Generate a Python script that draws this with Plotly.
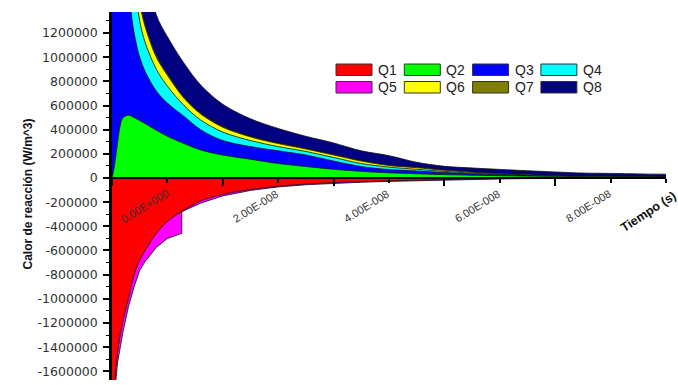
import plotly.graph_objects as go

# ---------------- data ----------------
# time in units of 1e-8 s
time_u = [0.0, 0.02, 0.05, 0.1, 0.15, 0.2, 0.3, 0.4, 0.5, 0.6, 0.8, 1.0, 1.3, 1.6, 2.0, 2.5,
          3.0, 3.5, 4.0, 4.5, 5.0, 5.5, 6.0, 6.5, 7.0, 7.5, 8.0, 8.5, 9.0, 9.5, 10.0]
time_u_q5 = [0.0, 0.02, 0.05, 0.1, 0.15, 0.2, 0.3, 0.4, 0.5, 0.6, 0.8, 1.0, 1.26, 1.26, 1.6, 2.0,
             2.5, 3.0, 3.5, 4.0, 4.5, 5.0, 5.5, 6.0, 6.5, 7.0, 7.5, 8.0, 8.5, 9.0, 9.5, 10.0]
T_UNIT = 1e-8      # s
V_UNIT = 1e6       # W/m^3

q1 = [-2.4, -2.0, -1.7, -1.45, -1.29, -1.18, -0.99, -0.80, -0.68, -0.6, -0.46, -0.36, -0.265, -0.19,
      -0.135, -0.095, -0.068, -0.05, -0.038, -0.03, -0.024, -0.018, -0.013, -0.008, -0.005, -0.003,
      -0.002, -0.0015, -0.001, -0.001, -0.001]
q2 = [0.0, 0.04, 0.12, 0.29, 0.44, 0.50, 0.52, 0.50, 0.475, 0.45, 0.395, 0.345, 0.285, 0.232, 0.19,
      0.155, 0.12, 0.095, 0.072, 0.055, 0.043, 0.035, 0.028, 0.023, 0.019, 0.016, 0.014, 0.012, 0.011,
      0.010, 0.009]
q3 = [6.0, 5.0, 4.5, 3.5, 2.8, 2.2, 1.55, 1.2, 1.0, 0.88, 0.72, 0.62, 0.51, 0.40, 0.31, 0.26, 0.225,
      0.19, 0.14, 0.095, 0.07, 0.058, 0.045, 0.034, 0.026, 0.019, 0.013, 0.009, 0.007, 0.005, 0.004]
q4 = [8.0, 7.0, 6.5, 5.0, 4.2, 3.6, 2.4, 1.7, 1.3, 1.12, 0.9, 0.76, 0.6, 0.48, 0.38, 0.31, 0.26,
      0.22, 0.17, 0.12, 0.09, 0.072, 0.055, 0.04, 0.03, 0.022, 0.015, 0.010, 0.008, 0.006, 0.005]
q5 = [-2.6, -2.1, -1.78, -1.53, -1.38, -1.27, -1.06, -0.9, -0.765, -0.69, -0.575, -0.5, -0.458,
      -0.279, -0.208, -0.148, -0.103, -0.074, -0.056, -0.044, -0.035, -0.028, -0.022, -0.016,
      -0.011, -0.008, -0.005, -0.003, -0.002, -0.001, -0.001, -0.001]
q6 = [8.0, 7.5, 7.0, 6.0, 5.0, 4.0, 2.6, 1.9, 1.45, 1.25, 1.0, 0.85, 0.66, 0.53, 0.42, 0.34, 0.285,
      0.24, 0.19, 0.14, 0.103, 0.085, 0.064, 0.047, 0.035, 0.026, 0.018, 0.012, 0.009, 0.007, 0.006]
q7 = [8.0, 7.5, 7.0, 6.0, 5.0, 4.1, 2.65, 1.93, 1.47, 1.27, 1.015, 0.862, 0.67, 0.538, 0.427, 0.346,
      0.29, 0.245, 0.195, 0.145, 0.107, 0.09, 0.068, 0.05, 0.037, 0.028, 0.02, 0.013, 0.01, 0.008,
      0.007]
q8 = [8.0, 8.0, 7.5, 6.5, 5.8, 5.0, 3.7, 2.8, 2.2, 1.8, 1.35, 1.17, 0.95, 0.77, 0.61, 0.49, 0.41,
      0.345, 0.29, 0.225, 0.185, 0.13, 0.097, 0.083, 0.071, 0.060, 0.050, 0.041, 0.038, 0.034, 0.031]

series_names = ["Q1", "Q2", "Q3", "Q4", "Q5", "Q6", "Q7", "Q8"]
series_colors = ["#FF0000", "#00FF00", "#0000FF", "#00FFFF", "#FF00FF", "#FFFF00", "#808000", "#000080"]
series_values = {"Q1": q1, "Q2": q2, "Q3": q3, "Q4": q4, "Q5": q5, "Q6": q6, "Q7": q7, "Q8": q8}
series_times = {n: (time_u_q5 if n == "Q5" else time_u) for n in series_names}
draw_order = ["Q8", "Q7", "Q6", "Q4", "Q3", "Q2", "Q5", "Q1"]

x_tick_vals = [0.0, 2e-8, 4e-8, 6e-8, 8e-8]
x_tick_text = ["0.00E+000", "2.00E-008", "4.00E-008", "6.00E-008", "8.00E-008"]
y_tick_vals = [-1600000, -1400000, -1200000, -1000000, -800000, -600000, -400000, -200000, 0,
               200000, 400000, 600000, 800000, 1000000, 1200000]
y_tick_text = [str(v) for v in y_tick_vals]

X_RANGE = [0.0, 1e-7]
Y_RANGE = [-1672000, 1374000]

# ---------------- layout geometry (px) ----------------
W, H = 678, 385
ML, MR, MT, MB = 112, 12, 12, 5
PW, PH = W - ML - MR, H - MT - MB


def px_to_paper(px, py):
    return (px - ML) / PW, (H - MB - py) / PH


# ---------------- figure ----------------
fig = go.Figure()
for name in draw_order:
    i = series_names.index(name)
    fig.add_trace(go.Scatter(
        x=[u * T_UNIT for u in series_times[name]],
        y=[v * V_UNIT for v in series_values[name]],
        mode="lines", fill="tozeroy", fillcolor=series_colors[i],
        line=dict(color="#111111", width=0.8,
                  shape="linear" if name == "Q5" else "spline", smoothing=0.9),
        name=name, showlegend=False, hoverinfo="skip",
    ))

zero_pos = (0 - Y_RANGE[0]) / (Y_RANGE[1] - Y_RANGE[0])

fig.update_layout(
    width=W, height=H,
    margin=dict(l=ML, r=MR, t=MT, b=MB, autoexpand=False),
    paper_bgcolor="white", plot_bgcolor="white",
    font=dict(family="Liberation Sans, Arial, sans-serif", color="#222222"),
    showlegend=False,
    xaxis=dict(
        range=X_RANGE, anchor="free", position=zero_pos, automargin=False,
        showline=True, linecolor="black", linewidth=2,
        ticks="outside", ticklen=7, tickwidth=1.8, tickcolor="black",
        tickvals=x_tick_vals, showticklabels=False, showgrid=False, zeroline=False,
        minor=dict(ticks="outside", ticklen=4, tickwidth=1.5, tickcolor="black", dtick=1e-8),
    ),
    yaxis=dict(
        range=Y_RANGE, automargin=False, showline=True, linecolor="black", linewidth=2.5,
        ticks="outside", ticklen=6, tickwidth=1.5, tickcolor="black",
        tickvals=y_tick_vals, ticktext=y_tick_text, ticklabelstandoff=3,
        tickfont=dict(family="DejaVu Sans", size=12.5, color="#333333"),
        showgrid=False, zeroline=False,
        minor=dict(ticks="outside", ticklen=3, tickwidth=1.3, tickcolor="black", dtick=100000),
    ),
)

# legend (4 columns x 2 rows) drawn as swatches + labels
LEG_X0, LEG_Y0, COL_W, ROW_H, SW_W, SW_H = 336, 64, 68.3, 17.5, 36, 11.5
for i, (name, color) in enumerate(zip(series_names, series_colors)):
    col, row = i % 4, i // 4
    sx = LEG_X0 + col * COL_W
    sy = LEG_Y0 + row * ROW_H
    x0, y1 = px_to_paper(sx, sy)
    x1, y0 = px_to_paper(sx + SW_W, sy + SW_H)
    fig.add_shape(type="rect", xref="paper", yref="paper", x0=x0, x1=x1, y0=y0, y1=y1,
                  fillcolor=color, line=dict(color="#333333", width=1))
    tx, ty = px_to_paper(sx + SW_W + 4, sy + SW_H / 2)
    fig.add_annotation(x=tx, y=ty, xref="paper", yref="paper", text=name, showarrow=False,
                       xanchor="left", yanchor="middle",
                       font=dict(family="Liberation Sans, Arial", size=14, color="#222222"))

# rotated x tick labels
for v, txt in zip(x_tick_vals, x_tick_text):
    fig.add_annotation(x=v, y=0, xref="x", yref="y", text=txt, showarrow=False,
                       textangle=-32, xshift=33, yshift=-28,
                       font=dict(family="Liberation Sans, Arial", size=11, color="#333333"))

fig.add_annotation(x=X_RANGE[1], y=0, xref="x", yref="y", text="<b>Tiempo (s)</b>", showarrow=False,
                   textangle=-33, xshift=-18, yshift=-34,
                   font=dict(family="Liberation Sans, Arial", size=12.5, color="#111111"))

tx, ty = px_to_paper(18, 194.5)
fig.add_annotation(x=tx, y=ty, xref="paper", yref="paper",
                   text="<b>Calor de reacción (W/m^3)</b>", showarrow=False, textangle=-90,
                   font=dict(family="Liberation Sans, Arial", size=12, color="#111111"))

fig.write_html("out.html", config={"displayModeBar": False},
               post_script="document.body.style.margin='0';")
